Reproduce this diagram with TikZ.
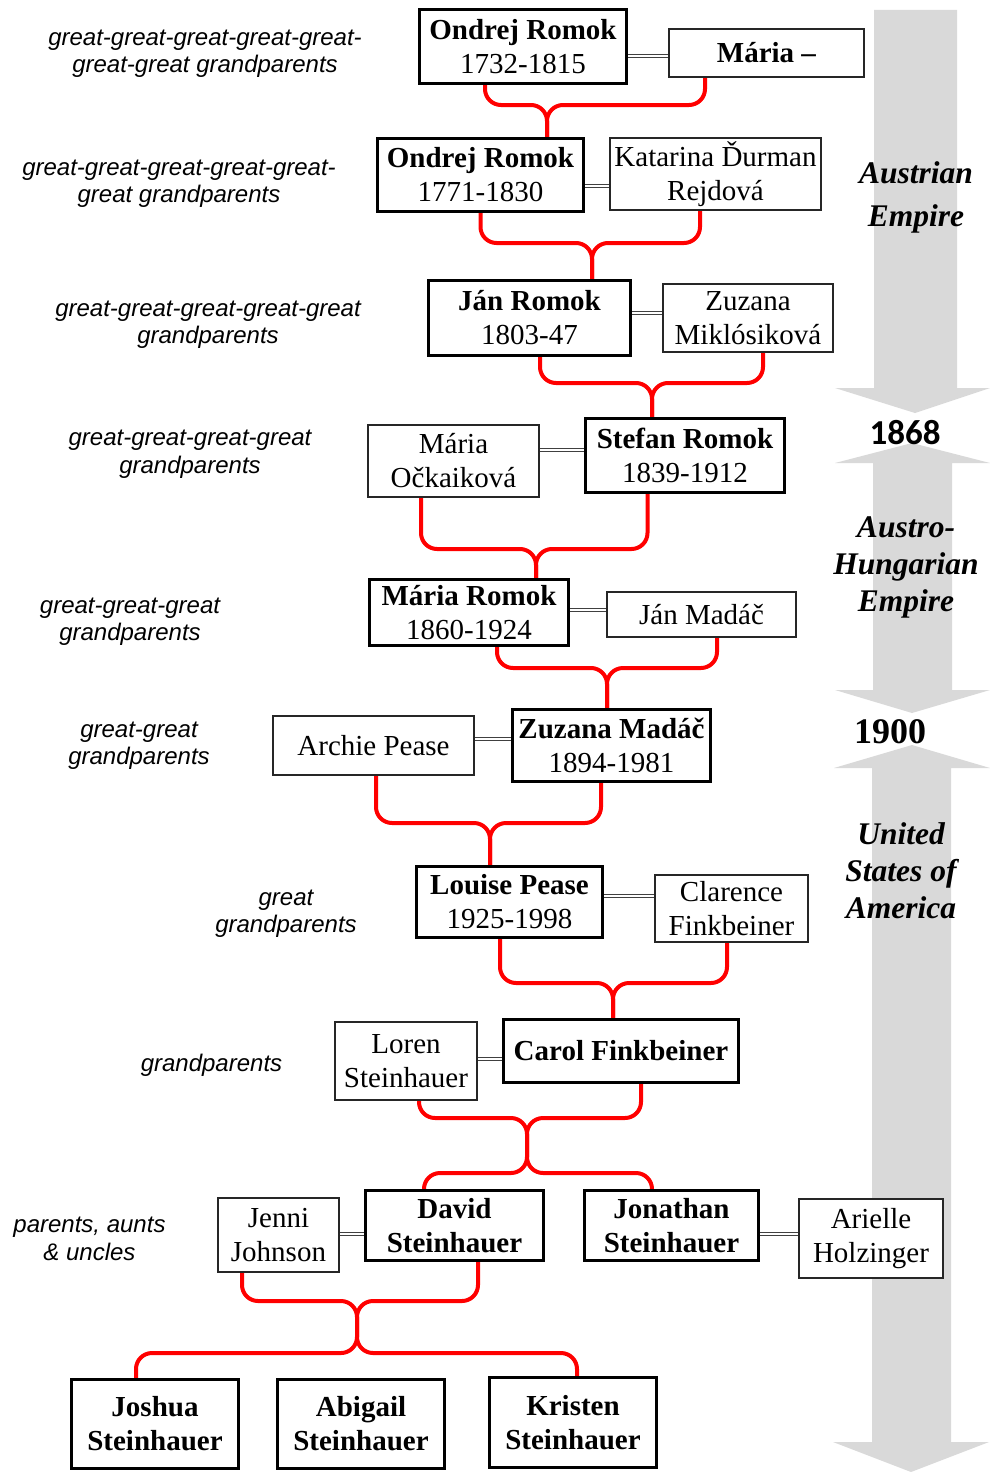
\documentclass[tikz,border=0pt]{standalone}
\usepackage{fontspec}
\setmainfont{Liberation Serif}
\newfontfamily\labfont{Liberation Sans}
\newfontfamily\calfont{Carlito}
\definecolor{arrowgray}{HTML}{D9D9D9}
\pgfdeclarelayer{bg}
\pgfsetlayers{bg,main}
\tikzset{
  bbox/.style={draw=black, line width=3.4pt, fill=white, inner sep=0pt, align=center,
    font=\fontsize{29}{34}\selectfont},
  tbox/.style={draw=black!85, line width=1.2pt, fill=white, inner sep=0pt, align=center,
    font=\fontsize{29}{34}\selectfont},
  lab/.style={inner sep=0pt, align=center, font=\labfont\itshape\fontsize{24}{27.5}\selectfont},
  era/.style={inner sep=0pt, align=center, font=\bfseries\itshape\fontsize{31.5}{37}\selectfont},
  link/.style={draw=red, line width=4pt, rounded corners=16pt},
  marr/.style={draw=black!75, line width=1.2pt, double=white, double distance=2pt},
}
\begin{document}
\begin{tikzpicture}[x=1pt,y=-1pt]
\useasboundingbox (0,0) rectangle (989,1472);

% gray timeline arrows
\begin{pgfonlayer}{bg}
\fill[arrowgray] (874,10) -- (957,10) -- (957,388) -- (990,388) -- (915,413) -- (835,388) -- (874,388) -- cycle;
\fill[arrowgray] (912,443) -- (990,463) -- (952,463) -- (952,690) -- (990,690) -- (912,713) -- (835,690) -- (873,690) -- (873,463) -- (835,463) -- cycle;
\fill[arrowgray] (912,745) -- (990,768) -- (951,768) -- (951,1442) -- (989,1442) -- (911,1472) -- (833,1442) -- (872,1442) -- (872,768) -- (834,768) -- cycle;
\end{pgfonlayer}

% people
\node[bbox, minimum width=207, minimum height=74] (n1) at (523,46.5) {\textbf{Ondrej Romok}\\1732-1815};
\node[tbox, minimum width=195, minimum height=48] (m1) at (766.5,53) {\textbf{Mária –}};
\node[bbox, minimum width=206, minimum height=73] (n2) at (480.5,175) {\textbf{Ondrej Romok}\\1771-1830};
\node[tbox, minimum width=211, minimum height=72] (m2) at (715.5,174) {Katarina Ďurman\\Rejdová};
\node[bbox, minimum width=202, minimum height=75] (n3) at (529.5,318) {\textbf{Ján Romok}\\1803-47};
\node[tbox, minimum width=170, minimum height=68] (m3) at (748,318) {Zuzana\\Miklósiková};
\node[tbox, minimum width=171, minimum height=72] (m4) at (453.5,461) {Mária\\Očkaiková};
\node[bbox, minimum width=199, minimum height=74] (n4) at (685,455.5) {\textbf{Stefan Romok}\\1839-1912};
\node[bbox, minimum width=199, minimum height=66] (n5) at (469,612.5) {\textbf{Mária Romok}\\1860-1924};
\node[tbox, minimum width=189, minimum height=45] (m5) at (701.5,614.5) {Ján Madáč};
\node[tbox, minimum width=201, minimum height=59] (m6) at (373.5,745.5) {Archie Pease};
\node[bbox, minimum width=198, minimum height=72] (n6) at (611.5,745.5) {\textbf{Zuzana Madáč}\\1894-1981};
\node[bbox, minimum width=186, minimum height=71] (n7) at (509.5,902) {\textbf{Louise Pease}\\1925-1998};
\node[tbox, minimum width=153, minimum height=67] (m7) at (731.5,908.5) {Clarence\\Finkbeiner};
\node[tbox, minimum width=142, minimum height=78] (m8) at (406,1061) {Loren\\Steinhauer};
\node[bbox, minimum width=235, minimum height=63] (n8) at (621,1051) {\textbf{Carol Finkbeiner}};
\node[tbox, minimum width=121, minimum height=74] (m9) at (278.5,1235) {Jenni\\Johnson};
\node[bbox, minimum width=178, minimum height=70] (n9) at (454.5,1225.5) {\textbf{David}\\\textbf{Steinhauer}};
\node[bbox, minimum width=174, minimum height=70] (n10) at (671.5,1225.5) {\textbf{Jonathan}\\\textbf{Steinhauer}};
\node[tbox, minimum width=144, minimum height=79] (m10) at (871,1238.5) {Arielle\\Holzinger};
\node[bbox, minimum width=167, minimum height=89] (c1) at (155,1424) {\textbf{Joshua}\\\textbf{Steinhauer}};
\node[bbox, minimum width=167, minimum height=89] (c2) at (361,1424) {\textbf{Abigail}\\\textbf{Steinhauer}};
\node[bbox, minimum width=167, minimum height=90] (c3) at (573,1422.5) {\textbf{Kristen}\\\textbf{Steinhauer}};

% junctions
\coordinate (j1) at (547,105);
\coordinate (j2) at (592,243);
\coordinate (j3) at (652,383);
\coordinate (j4) at (536,549);
\coordinate (j5) at (607,668);
\coordinate (j6) at (490,823);
\coordinate (j7) at (613,983);
\coordinate (j8) at (527,1118);
\coordinate (k8) at (527,1173);
\coordinate (j9) at (357,1301);
\coordinate (k9) at (357,1353);

\begin{pgfonlayer}{bg}
% parent-child links
\draw[link] ([xshift=-38pt]n1.south) |- (j1) -- ([xshift=66.5pt]n2.north);
\draw[link] ([xshift=-61.5pt]m1.south) |- (j1) -- ([xshift=66.5pt]n2.north);
\draw[link] (n2.south) |- (j2) -- ([xshift=62.5pt]n3.north);
\draw[link] ([xshift=-15.5pt]m2.south) |- (j2) -- ([xshift=62.5pt]n3.north);
\draw[link] ([xshift=10.5pt]n3.south) |- (j3) -- ([xshift=-33pt]n4.north);
\draw[link] ([xshift=15pt]m3.south) |- (j3) -- ([xshift=-33pt]n4.north);
\draw[link] ([xshift=-32.5pt]m4.south) |- (j4) -- ([xshift=67pt]n5.north);
\draw[link] ([xshift=-37.5pt]n4.south) |- (j4) -- ([xshift=67pt]n5.north);
\draw[link] ([xshift=28pt]n5.south) |- (j5) -- ([xshift=-4.5pt]n6.north);
\draw[link] ([xshift=15.5pt]m5.south) |- (j5) -- ([xshift=-4.5pt]n6.north);
\draw[link] ([xshift=2.5pt]m6.south) |- (j6) -- ([xshift=-19.5pt]n7.north);
\draw[link] ([xshift=-10.5pt]n6.south) |- (j6) -- ([xshift=-19.5pt]n7.north);
\draw[link] ([xshift=-9.5pt]n7.south) |- (j7) -- ([xshift=-8pt]n8.north);
\draw[link] ([xshift=-4.5pt]m7.south) |- (j7) -- ([xshift=-8pt]n8.north);
\draw[link] ([xshift=13pt]m8.south) |- (j8) -- (k8) -| ([xshift=-30.5pt]n9.north);
\draw[link] ([xshift=20pt]n8.south) |- (j8) -- (k8) -| ([xshift=-19.5pt]n10.north);
\draw[link] ([xshift=-36.5pt]m9.south) |- (j9) -- (k9) -| ([xshift=-19pt]c1.north);
\draw[link] ([xshift=23.5pt]n9.south) |- (j9) -- (k9) -| ([xshift=4pt]c3.north);
% marriages
\draw[marr] (n1.east |- 0,56) -- (m1.west |- 0,56);
\draw[marr] (n2.east |- 0,186) -- (m2.west |- 0,186);
\draw[marr] (n3.east |- 0,313) -- (m3.west |- 0,313);
\draw[marr] (m4.east |- 0,450) -- (n4.west |- 0,450);
\draw[marr] (n5.east |- 0,610) -- (m5.west |- 0,610);
\draw[marr] (m6.east |- 0,739) -- (n6.west |- 0,739);
\draw[marr] (n7.east |- 0,896) -- (m7.west |- 0,896);
\draw[marr] (m8.east |- 0,1059) -- (n8.west |- 0,1059);
\draw[marr] (m9.east |- 0,1234) -- (n9.west |- 0,1234);
\draw[marr] (n10.east |- 0,1234) -- (m10.west |- 0,1234);
\end{pgfonlayer}

% generation labels
\node[lab] (l1) at (205,53.5) {great-great-great-great-great-\\great-great grandparents};
\node[lab] (l2) at (179,183.5) {great-great-great-great-great-\\great grandparents};
\node[lab] (l3) at (208,324.5) {great-great-great-great-great\\grandparents};
\node[lab] (l4) at (190,454) {great-great-great-great\\grandparents};
\node[lab] (l5) at (130,621.5) {great-great-great\\grandparents};
\node[lab] (l6) at (139,745.5) {great-great\\grandparents};
\node[lab] (l7) at (286,913.5) {great\\grandparents};
\node[lab] (l8) at (211.5,1065) {grandparents};
\node[lab] (l9) at (89.5,1239) {parents, aunts\\\& uncles};

% timeline labels
\node[era] (e1) at (916,197.5) {Austrian\\[6pt]Empire};
\node[inner sep=0pt, font=\calfont\bfseries\fontsize{35}{40}\selectfont] (y1) at (905,433) {1868};
\node[era] (e2) at (906,567) {Austro-\\Hungarian\\Empire};
\node[inner sep=0pt, font=\bfseries\fontsize{36}{40}\selectfont] (y2) at (890,732) {1900};
\node[era] (e3) at (901,871) {United\\States of\\America};
\end{tikzpicture}
\end{document}
